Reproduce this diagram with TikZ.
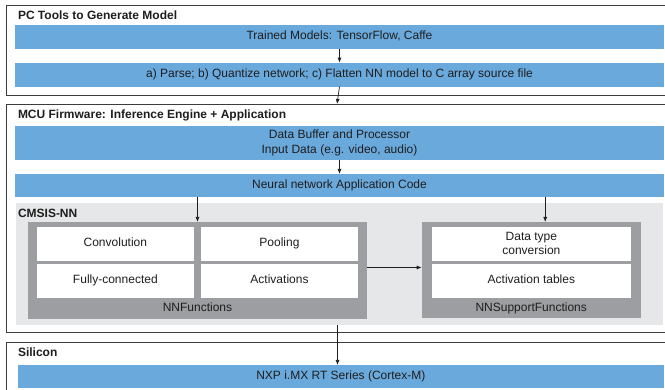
\documentclass[tikz,border=0pt]{standalone}
\usepackage{fontspec}
\setmainfont{Liberation Sans}
\usetikzlibrary{arrows.meta}
\definecolor{barblue}{HTML}{6AA9DC}
\definecolor{cmsisgray}{HTML}{E6E7E9}
\definecolor{boxgray}{HTML}{9D9EA1}
\definecolor{framegray}{HTML}{3C3C3C}
\definecolor{txt}{HTML}{1E1E1E}
\begin{document}
\begin{tikzpicture}[x=1pt,y=-1pt,
  every node/.style={inner sep=0pt,outer sep=0pt,text=txt,font=\fontsize{12}{15}\selectfont},
  frame/.style={draw=framegray,line width=0.9pt,fill=white},
  bar/.style={fill=barblue,align=center},
  region/.style={fill=cmsisgray},
  grp/.style={fill=boxgray},
  cell/.style={fill=white,align=center,font=\fontsize{12}{14}\selectfont},
  oneline/.style={text height=8.6pt,text depth=2.6pt},
  ttl/.style={anchor=west,font=\fontsize{12}{14}\selectfont\bfseries},
  arr/.style={draw=txt,line width=0.7pt,-{Latex[length=5pt,width=4pt]}}
]
\useasboundingbox (0,0) rectangle (665,390);
% frames
\node[frame,minimum width=662,minimum height=90.2] (pc) at (337,50.6) {};
\node[frame,minimum width=662,minimum height=228.3] (mcu) at (337,218.15) {};
\node[frame,minimum width=662,minimum height=60] (si) at (337,372.3) {};
% titles
\node[ttl] (pct) at (18,15.5) {PC Tools to Generate Model};
\node[ttl] (mcut) at (18,115) {MCU Firmware: Inference Engine + Application};
\node[ttl] (sit) at (18,352.7) {Silicon};
% bars
\node[bar,oneline,minimum width=649,minimum height=24] (b1) at (339.5,37) {Trained Models: TensorFlow, Caffe};
\node[bar,oneline,minimum width=649,minimum height=24] (b2) at (339.5,74.7) {a) Parse; b) Quantize network; c) Flatten NN model to C array source file};
\node[bar,minimum width=649,minimum height=34] (b3) at (339.5,143) {Data Buffer and Processor\\Input Data (e.g. video, audio)};
\node[bar,oneline,minimum width=649,minimum height=22.7] (b4) at (339.5,185.35) {Neural network Application Code};
\node[bar,oneline,minimum width=646.3,minimum height=22.7] (b5) at (340.85,376.35) {NXP i.MX RT Series (Cortex-M)};
% CMSIS-NN region
\node[region,minimum width=647,minimum height=122.3] (cmsis) at (339.5,263.85) {};
\node[ttl] (cmsist) at (18,213) {CMSIS-NN};
\node[grp,minimum width=339,minimum height=97] (nnf) at (197.5,270.5) {};
\node[cell,oneline,minimum width=157.3,minimum height=34] (conv) at (115.35,243.7) {Convolution};
\node[cell,oneline,minimum width=157,minimum height=34] (pool) at (279.5,243.7) {Pooling};
\node[cell,oneline,minimum width=157.3,minimum height=33.7] (fc) at (115.35,280.85) {Fully-connected};
\node[cell,oneline,minimum width=157,minimum height=33.7] (act) at (279.5,280.85) {Activations};
\node[oneline] (nnfl) at (197.5,309) {NNFunctions};
\node[grp,minimum width=219,minimum height=96] (nns) at (531.2,270) {};
\node[cell,minimum width=199.3,minimum height=34] (dtc) at (531.35,243.7) {Data type\\conversion};
\node[cell,oneline,minimum width=199.3,minimum height=33.7] (at) at (531.35,280.85) {Activation tables};
\node[oneline] (nnsl) at (531.2,309) {NNSupportFunctions};
% arrows
\draw[arr] (b1.south) -- (b2.north);
\draw[arr] (b2.south) -- (mcu.north);
\draw[arr] (b3.south) -- (b4.north);
\draw[arr] (nnf.north |- b4.south) -- (nnf.north);
\draw[arr] ([xshift=14pt]nns.north |- b4.south) -- ([xshift=14pt]nns.north);
\draw[arr] ([yshift=3pt]nnf.east) -- ([yshift=3pt]nns.west |- nnf.east);
\draw[arr] ([xshift=-2pt]cmsis.south) -- ([xshift=-2pt]cmsis.south |- b5.north);
\end{tikzpicture}
\end{document}
